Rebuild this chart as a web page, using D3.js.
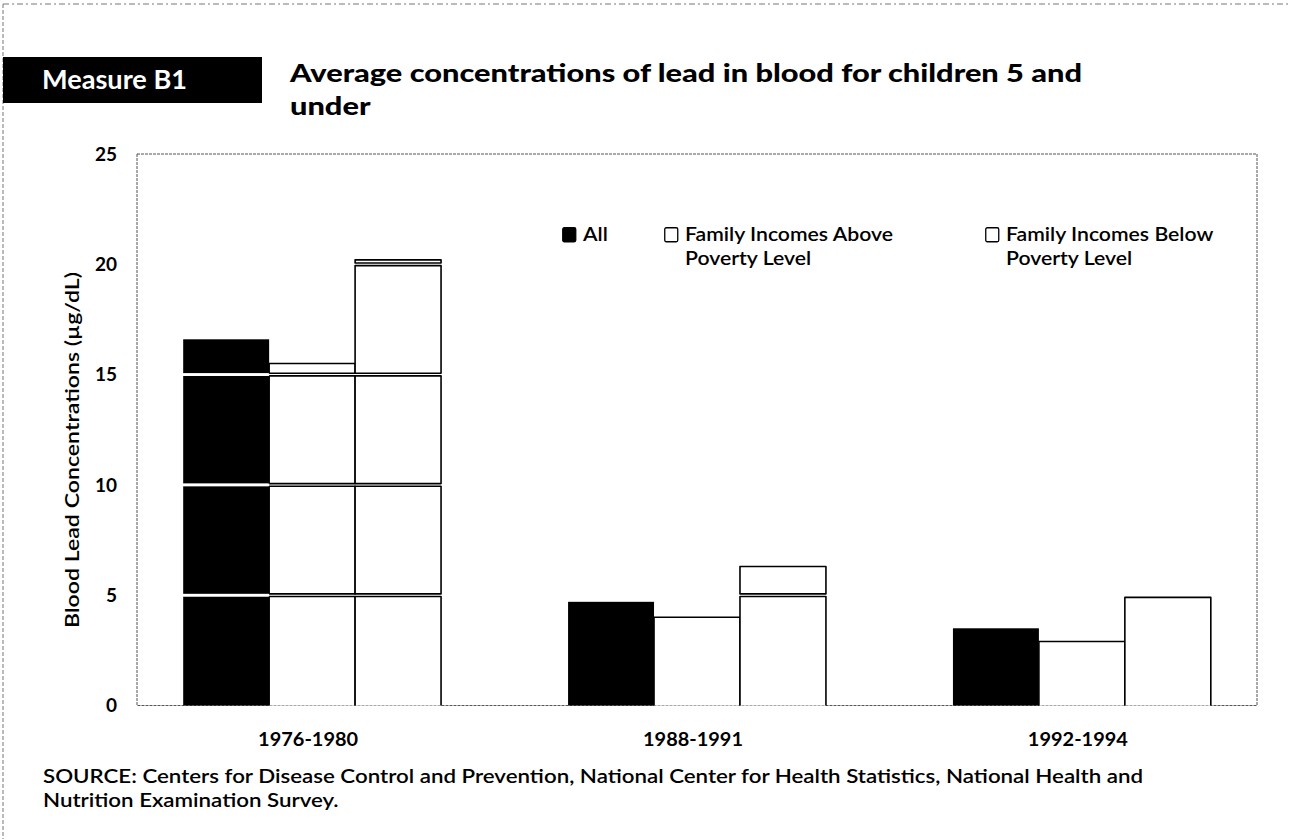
<!DOCTYPE html>
<html>
<head>
<meta charset="utf-8">
<script src="https://cdn.jsdelivr.net/npm/d3@7"></script>
<style>
  body { margin: 0; background: #fff; }
  text { font-family: Lato, "Open Sans", sans-serif; }
</style>
</head>
<body>
<div id="chart"></div>
<script>
// data (µg/dL)
var categories = ["1976-1980", "1988-1991", "1992-1994"];
var seriesKeys = ["all", "above", "below"];
var allValues = [16.6, 4.7, 3.5];
var aboveValues = [15.5, 4.0, 2.9];
var belowValues = [20.2, 6.3, 4.9];
var yTicks = [0, 5, 10, 15, 20, 25];
var gridValues = [5, 10, 15, 20];
var legendLabels = [["All"], ["Family Incomes Above", "Poverty Level"], ["Family Incomes Below", "Poverty Level"]];

var width = 1289, height = 839;
var plot = {left: 137, right: 1257, top: 154, bottom: 705.5};

var svg = d3.select("#chart").append("svg")
        .attr("width", width)
        .attr("height", height);

//fit a text to a given width, returns the ratio used
function fit(sel, target) {
    var w = sel.node().getComputedTextLength();
    sel.attr("textLength", target).attr("lengthAdjust", "spacingAndGlyphs");
    return target / w;
}
function fitRatio(sel, ratio) {
    var w = sel.node().getComputedTextLength();
    sel.attr("textLength", w * ratio).attr("lengthAdjust", "spacingAndGlyphs");
}

// page edge (scanned page border)
svg.append("line")
        .attr("x1", 3).attr("x2", width).attr("y1", 4).attr("y2", 4)
        .attr("stroke", "#777").attr("stroke-width", 1)
        .attr("stroke-dasharray", "6,3,2,3");
svg.append("line")
        .attr("x1", 3).attr("x2", 3).attr("y1", 4).attr("y2", height)
        .attr("stroke", "#777").attr("stroke-width", 1)
        .attr("stroke-dasharray", "4,2");

// header box
svg.append("rect")
        .attr("x", 3).attr("y", 57)
        .attr("width", 259).attr("height", 46)
        .attr("fill", "#000");
var m = svg.append("text")
        .attr("x", 42).attr("y", 89)
        .attr("fill", "#fff")
        .attr("font-size", 26)
        .attr("font-weight", 700)
        .text("Measure B1");
fit(m, 145);

var t1 = svg.append("text")
        .attr("x", 290).attr("y", 82)
        .attr("font-size", 25)
        .attr("font-weight", 900)
        .text("Average concentrations of lead in blood for children 5 and");
var r = fit(t1, 792);
var t2 = svg.append("text")
        .attr("x", 290).attr("y", 115)
        .attr("font-size", 25)
        .attr("font-weight", 900)
        .text("under");
fitRatio(t2, r);

// scales
var x0 = d3.scaleBand()
        .domain(categories)
        .range([plot.left, plot.right])
        .paddingInner(0.33)
        .paddingOuter(0.12);
var x1 = d3.scaleBand()
        .domain(seriesKeys)
        .range([0, x0.bandwidth()]);
var y = d3.scaleLinear()
        .domain([0, 25])
        .range([plot.bottom, plot.top]);

// plot frame
svg.append("rect")
        .attr("x", plot.left).attr("y", y(25))
        .attr("width", plot.right - plot.left)
        .attr("height", y(0) - y(25))
        .attr("fill", "none")
        .attr("stroke", "#555")
        .attr("stroke-width", 1)
        .attr("stroke-dasharray", "3,1");

// y axis labels
svg.append("g").selectAll("text")
        .data(yTicks)
        .enter().append("text")
        .attr("x", 117)
        .attr("y", function (d) { return y(d); })
        .attr("dy", "0.36em")
        .attr("text-anchor", "end")
        .attr("font-size", 19)
        .attr("font-weight", 700)
        .text(function (d) { return d; });

var yl = svg.append("text")
        .attr("transform", "translate(79,450) rotate(-90)")
        .attr("text-anchor", "middle")
        .attr("font-size", 19)
        .attr("font-weight", 600)
        .text("Blood Lead Concentrations (µg/dL)");
fit(yl, 356);

// bars, split in 5-unit pieces like the original (white gaps at the gridlines)
var rows = categories.map(function (c, i) {
    return {cat: c, all: allValues[i], above: aboveValues[i], below: belowValues[i]};
});
var gap = 1.3;

function pieces(v) {
    var out = [];
    d3.range(0, v, 5).forEach(function (lo) {
        out.push([lo, Math.min(v, lo + 5)]);
    });
    return out;
}

var groups = svg.append("g").selectAll("g")
        .data(rows)
        .enter().append("g")
        .attr("transform", function (d) { return "translate(" + x0(d.cat) + ",0)"; });

groups.each(function (d) {
    var g = d3.select(this);
    seriesKeys.forEach(function (k) {
        var bx = x1(k), bw = x1.bandwidth();
        pieces(d[k]).forEach(function (p) {
            var top = y(p[1]) + (p[1] % 5 === 0 && p[1] < d[k] ? gap : 0);
            var bot = p[0] === 0 ? y(0) : y(p[0]) - gap;
            if (k === "all") {
                g.append("rect")
                        .attr("x", bx).attr("y", top)
                        .attr("width", bw).attr("height", Math.max(0, bot - top))
                        .attr("fill", "#000");
            } else {
                var path;
                if (p[0] === 0) {
                    path = "M" + bx + "," + bot + "V" + top + "H" + (bx + bw) + "V" + bot;
                } else {
                    path = "M" + bx + "," + bot + "V" + top + "H" + (bx + bw) + "V" + bot + "Z";
                }
                g.append("path")
                        .attr("d", path)
                        .attr("fill", "#fff")
                        .attr("stroke", "#000")
                        .attr("stroke-width", 1.6)
                        .attr("stroke-linejoin", "round");
            }
        });
    });
});

// white gridlines crossing the black bars
groups.each(function (d) {
    var g = d3.select(this);
    gridValues.filter(function (v) { return v < d.all; }).forEach(function (v) {
        g.append("rect")
                .attr("x", x1("all")).attr("y", y(v) - gap)
                .attr("width", x1.bandwidth()).attr("height", gap * 2)
                .attr("fill", "#fff");
    });
});

// x labels
svg.append("g").selectAll("text")
        .data(categories)
        .enter().append("text")
        .attr("x", function (d) { return x0(d) + x0.bandwidth() / 2 - 4; })
        .attr("y", 746)
        .attr("text-anchor", "middle")
        .attr("font-size", 19)
        .attr("font-weight", 700)
        .text(function (d) { return d; })
        .each(function () { fit(d3.select(this), 100); });

// legend
var legX = [562, 664, 985];
var leg = svg.append("g").selectAll("g")
        .data(legendLabels)
        .enter().append("g")
        .attr("transform", function (d, i) { return "translate(" + legX[i] + ",227)"; });
leg.append("rect")
        .attr("x", 0.75).attr("y", 0.75)
        .attr("width", 13).attr("height", 14)
        .attr("rx", 1.5)
        .attr("fill", function (d, i) { return i === 0 ? "#000" : "#fff"; })
        .attr("stroke", "#000")
        .attr("stroke-width", 1.3);
var legRatio = null;
leg.each(function (d) {
    var g = d3.select(this);
    d.forEach(function (line, j) {
        var t = g.append("text")
                .attr("x", 21)
                .attr("y", 14 + j * 24)
                .attr("font-size", 19)
                .attr("font-weight", 600)
                .text(line);
        if (legRatio === null && line === "Family Incomes Above") {
            legRatio = fit(t, 208);
        } else if (legRatio !== null) {
            fitRatio(t, legRatio);
        }
    });
});
// "All" was drawn before the ratio was known
leg.filter(function (d, i) { return i === 0; }).select("text").each(function () {
    fitRatio(d3.select(this), legRatio);
});

// source note
var s1 = svg.append("text")
        .attr("x", 43).attr("y", 783)
        .attr("font-size", 19)
        .attr("font-weight", 600)
        .text("SOURCE:  Centers for Disease Control and Prevention, National Center for Health Statistics, National Health and");
var rs = fit(s1, 1100);
var s2 = svg.append("text")
        .attr("x", 43).attr("y", 807)
        .attr("font-size", 19)
        .attr("font-weight", 600)
        .text("Nutrition Examination Survey.");
fitRatio(s2, rs);
</script>
</body>
</html>
